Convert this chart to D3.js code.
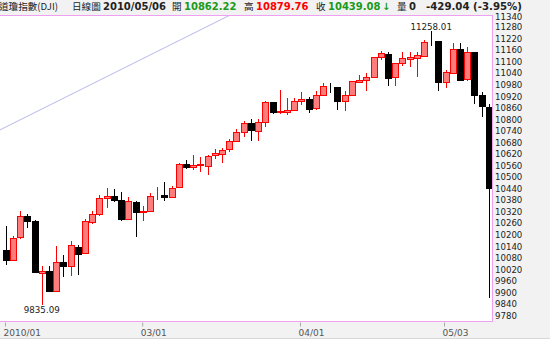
<!DOCTYPE html>
<html>
<head>
<meta charset="utf-8">
<script src="https://cdn.jsdelivr.net/npm/d3@7"></script>
<style>
  html, body { margin: 0; padding: 0; background: #f2f2f2; }
  svg { display: block; }
</style>
</head>
<body>
<svg id="chart" width="550" height="339"></svg>
<script>
// DJI daily candles, 2010/01/29 - 2010/05/06
const dates = ["01/29","02/01","02/02","02/03","02/04","02/05","02/08","02/09","02/10","02/11",
  "02/12","02/16","02/17","02/18","02/19","02/22","02/23","02/24","02/25","02/26",
  "03/01","03/02","03/03","03/04","03/05","03/08","03/09","03/10","03/11","03/12",
  "03/15","03/16","03/17","03/18","03/19","03/22","03/23","03/24","03/25","03/26",
  "03/29","03/30","03/31","04/01","04/05","04/06","04/07","04/08","04/09","04/12",
  "04/13","04/14","04/15","04/16","04/19","04/20","04/21","04/22","04/23","04/26",
  "04/27","04/28","04/29","04/30","05/03","05/04","05/05","05/06"];
const open = [10120,10071,10186,10296,10269,10003,10013,9908,10058,10037,
  10137,10100,10270,10309,10390,10402,10382,10283,10372,10321,
  10325,10404,10406,10397,10445,10566,10552,10564,10560,10612,
  10620,10643,10688,10733,10779,10740,10785,10888,10838,10842,
  10851,10896,10907,10857,10927,10972,10969,10895,10927,10997,
  11005,11020,11123,11142,11018,11093,11117,11120,11134,11206,
  11205,10993,11045,11168,11009,11150,10925,10862.22];
const high = [10245,10195,10322,10308,10276,10040,10040,10141,10094,10170,
  10145,10283,10322,10405,10443,10437,10421,10398,10375,10350,
  10415,10450,10474,10452,10575,10589,10613,10605,10615,10646,
  10649,10700,10750,10790,10800,10800,10895,10890,10955,10911,
  10913,10942,10918,10945,10990,10990,10970,10950,11000,11030,
  11040,11125,11155,11150,11095,11150,11152,11148,11213,11258.01,
  11210,11057,11197,11197,11175,11152,10944,10879.76];
const low = [10041,10067,10180,10235,10000,9835.09,9903,9906,9980,9985,
  9990,10099,10258,10300,10338,10370,10270,10280,10188,10273,
  10323,10380,10377,10390,10444,10542,10535,10528,10510,10594,
  10571,10630,10680,10710,10690,10690,10760,10826,10830,10823,
  10848,10875,10835,10850,10924,10935,10850,10843,10925,10990,
  10950,11020,11110,10973,10973,11080,11074,11018,11130,11180,
  10950,10965,11041,10998,10998,10880,10814,9869.62];
const close = [10067.33,10185.53,10296.85,10270.55,10002.18,10012.23,9908.39,10058.64,10038.38,10144.19,
  10099.14,10268.81,10309.24,10392.90,10402.35,10383.38,10282.41,10374.16,10321.03,10325.26,
  10403.79,10405.98,10396.76,10444.14,10566.20,10552.52,10564.38,10567.33,10611.84,10624.69,
  10642.15,10685.98,10733.67,10779.17,10741.98,10785.89,10888.83,10836.15,10841.21,10850.36,
  10895.86,10907.42,10856.63,10927.07,10973.55,10969.99,10897.52,10927.07,10997.35,11005.97,
  11019.42,11123.11,11144.57,11018.66,11092.05,11117.06,11124.92,11134.29,11204.28,11205.03,
  10991.99,11045.27,11167.32,11008.61,11151.83,10926.77,10868.12,10439.08];

const yTicks = d3.range(9780, 11341, 60);
const xTickDates = ["01/29", "03/01", "04/01", "05/03"];
const xTickLabels = ["2010/01", "03/01", "04/01", "05/03"];
// trend line drawn on chart (day index, value)
const trendIdx = [-0.8, 31.1];
const trendVal = [10745, 11342];

const header = [
  { t: "道瓊指數(DJI)", x: -1, c: "#222", b: false },
  { t: "日線圖", x: 72, c: "#222", b: false },
  { t: "2010/05/06", x: 103, c: "#222", b: true },
  { t: "開", x: 172, c: "#222", b: false },
  { t: "10862.22", x: 184, c: "#1a9a1a", b: true },
  { t: "高", x: 244, c: "#222", b: false },
  { t: "10879.76", x: 256, c: "#ff0000", b: true },
  { t: "收", x: 316, c: "#222", b: false },
  { t: "10439.08", x: 328, c: "#1a9a1a", b: true },
  { t: "↓", x: 382, c: "#1a9a1a", b: true },
  { t: "量", x: 397, c: "#222", b: false },
  { t: "0", x: 409, c: "#222", b: true },
  { t: "-429.04 (-3.95%)", x: 426, c: "#222", b: true, w: 96 }
];

const svg = d3.select("#chart");
const plot = { left: -1, top: 15, right: 493, bottom: 322 };

const x = d3.scaleLinear().domain([0, dates.length - 1]).range([5.7, 488.9]);
const y = d3.scaleLinear().domain([9780, 11340]).range([315.5, 15.5]);
// the date axis of the source runs a little narrower than the candles
const xAxisScale = d3.scaleLinear().domain([0, 64]).range([5, 444]);

// header
svg.append("g").selectAll("text").data(header).join("text")
  .attr("x", d => d.x).attr("y", 10.3)
  .attr("fill", d => d.c)
  .attr("textLength", d => d.w || null)
  .attr("lengthAdjust", d => d.w ? "spacingAndGlyphs" : null)
  .style("font-family", d => d.b ? "DejaVu Sans" : "'Noto Sans CJK TC', 'DejaVu Sans'")
  .style("font-size", d => d.b ? "10px" : "9.6px")
  .style("font-weight", d => d.b ? "bold" : "normal")
  .text(d => d.t);

svg.append("rect")
  .attr("x", plot.left + 0.5).attr("y", plot.top + 0.5)
  .attr("width", plot.right - plot.left - 1).attr("height", plot.bottom - plot.top - 1)
  .attr("fill", "#fff").attr("stroke", "#f0a0f0");

svg.append("clipPath").attr("id", "clip").append("rect")
  .attr("x", 0).attr("y", plot.top + 1)
  .attr("width", plot.right - 1).attr("height", plot.bottom - plot.top - 2);

const g = svg.append("g").attr("clip-path", "url(#clip)");

g.append("line")
  .attr("x1", x(trendIdx[0])).attr("y1", y(trendVal[0]))
  .attr("x2", x(trendIdx[1])).attr("y2", y(trendVal[1]))
  .attr("stroke", "#b8b8e6").attr("stroke-width", 1);

const idx = d3.range(dates.length);
const up = i => close[i] >= open[i];

const candles = g.append("g").attr("shape-rendering", "crispEdges")
  .selectAll("g").data(idx).join("g");

candles.append("line")
  .attr("x1", i => Math.round(x(i)) + 0.5).attr("x2", i => Math.round(x(i)) + 0.5)
  .attr("y1", i => y(high[i])).attr("y2", i => y(low[i]))
  .attr("stroke", i => up(i) ? "#ff0000" : "#000");

candles.append("rect")
  .attr("x", i => Math.round(x(i)) - 2.5)
  .attr("y", i => Math.round(y(Math.max(open[i], close[i]))) + 0.5)
  .attr("width", 6)
  .attr("height", i => Math.max(0, Math.round(Math.abs(y(open[i]) - y(close[i])))))
  .attr("fill", i => up(i) ? "#ff7c7c" : "#000")
  .attr("stroke", i => up(i) ? "#ff0000" : "#000");

// high / low annotations
const hiI = d3.maxIndex(high), loI = d3.minIndex(low.slice(0, 60));
svg.append("text")
  .attr("x", x(hiI)).attr("y", y(high[hiI]) - 1.5)
  .attr("text-anchor", "middle")
  .style("font-family", "DejaVu Sans").style("font-size", "8.7px").attr("fill", "#222")
  .text(high[hiI].toFixed(2));
svg.append("text")
  .attr("x", x(loI)).attr("y", y(low[loI]) + 8.5)
  .attr("text-anchor", "middle")
  .style("font-family", "DejaVu Sans").style("font-size", "8.7px").attr("fill", "#222")
  .text(low[loI].toFixed(2));

// y axis
const yAxis = svg.append("g")
  .attr("transform", `translate(${plot.right},0)`)
  .call(d3.axisRight(y).tickValues(yTicks).tickSize(0).tickPadding(2).tickFormat(d3.format("d")));
yAxis.select(".domain").remove();
yAxis.selectAll("text")
  .style("font-family", "DejaVu Sans").style("font-size", "8.6px").attr("fill", "#222");
// top label sits just under the header line
yAxis.selectAll(".tick").filter(d => d === 11340).select("text").attr("dy", "0.5em");

// x axis
const xAxis = svg.append("g")
  .attr("transform", `translate(0,${plot.bottom + 0.5})`)
  .call(d3.axisBottom(xAxisScale)
    .tickValues(xTickDates.map(d => dates.indexOf(d)))
    .tickFormat((d, k) => xTickLabels[k])
    .tickSize(4).tickPadding(3));
xAxis.select(".domain").remove();
xAxis.selectAll(".tick line").attr("stroke", "#aaa");
xAxis.selectAll("text")
  .attr("text-anchor", "start").attr("dx", -2)
  .style("font-family", "DejaVu Sans").style("font-size", "9px").attr("fill", "#555");

svg.append("line")
  .attr("x1", 0).attr("x2", 550).attr("y1", 338.5).attr("y2", 338.5)
  .attr("stroke", "#d8d8d8");
</script>
</body>
</html>
